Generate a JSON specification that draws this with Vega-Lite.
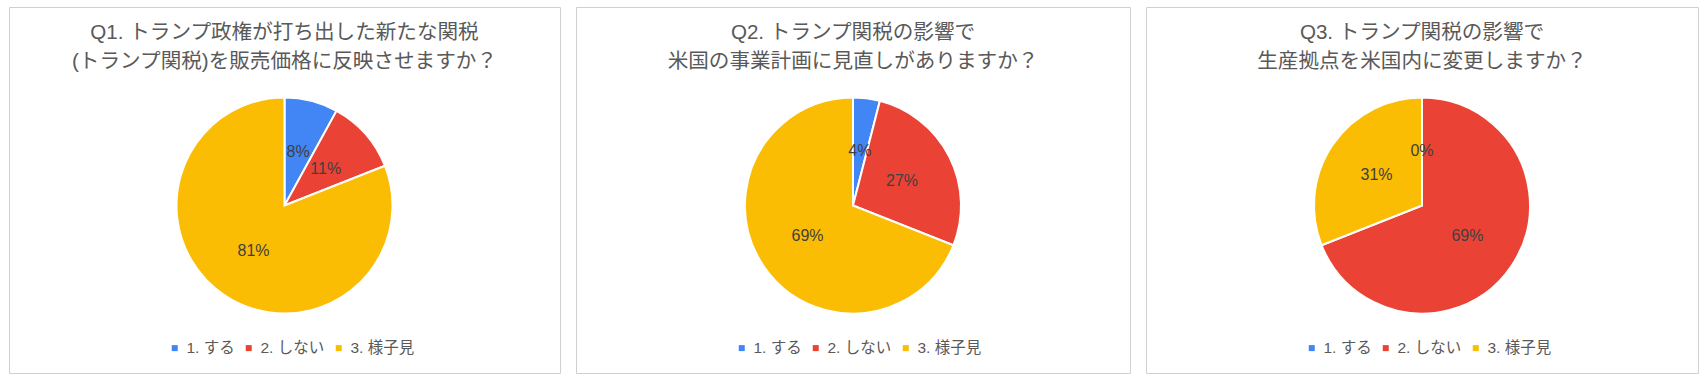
{
  "$schema": "https://vega.github.io/schema/vega-lite/v6.json",
  "padding": {"left": 8, "top": 6, "right": 0, "bottom": 0},
  "background": "white",
  "data": {"values": [
    {"q": "Q1", "k": 1, "c": "1. する", "pct": 0.08},
    {"q": "Q1", "k": 2, "c": "2. しない", "pct": 0.11},
    {"q": "Q1", "k": 3, "c": "3. 様子見", "pct": 0.81},
    {"q": "Q2", "k": 1, "c": "1. する", "pct": 0.04},
    {"q": "Q2", "k": 2, "c": "2. しない", "pct": 0.27},
    {"q": "Q2", "k": 3, "c": "3. 様子見", "pct": 0.69},
    {"q": "Q3", "k": 1, "c": "1. する", "pct": 0.0},
    {"q": "Q3", "k": 2, "c": "2. しない", "pct": 0.69},
    {"q": "Q3", "k": 3, "c": "3. 様子見", "pct": 0.31}
  ]},
  "spacing": 14,
  "config": {
    "font": "Liberation Sans, Noto Sans CJK JP",
    "view": {"stroke": "#d0d0d0", "strokeWidth": 1},
    "title": {"font": "Liberation Sans, Noto Sans CJK JP", "fontSize": 20.6, "fontWeight": "normal", "color": "#595959", "anchor": "middle", "lineHeight": 29, "offset": -66},
    "legend": {"orient": "none", "direction": "horizontal", "legendX": 158, "legendY": 333, "labelFont": "Liberation Sans, Noto Sans CJK JP", "labelFontSize": 15.5, "labelColor": "#595959", "symbolType": "square", "symbolSize": 36, "symbolStrokeWidth": 0, "labelOffset": 4, "columnPadding": 6, "title": null}
  },
  "resolve": {"legend": {"color": "independent"}},
  "hconcat": [
    {
      "width": 551, "height": 366,
      "view": {"stroke": "#d0d0d0", "strokeWidth": 1, "fill": "white"},
      "title": {"text": ["Q1. トランプ政権が打ち出した新たな関税", "(トランプ関税)を販売価格に反映させますか？"]},
      "transform": [{"filter": "datum.q === 'Q1'"}],
      "encoding": {
        "theta": {"field": "pct", "type": "quantitative", "stack": true},
        "order": {"field": "k", "type": "quantitative"},
        "color": {"field": "c", "type": "nominal", "scale": {"domain": ["1. する", "2. しない", "3. 様子見"], "range": ["#4285F4", "#EA4335", "#FBBC04"]}, "legend": {"title": null}}
      },
      "layer": [
        {"mark": {"type": "arc", "outerRadius": 108, "stroke": "white", "strokeWidth": 2, "yOffset": 15.5}},
        {"mark": {"type": "text", "radius": 55, "fontSize": 16, "yOffset": 15.5}, "encoding": {"text": {"field": "pct", "type": "quantitative", "format": ".0%"}, "color": {"value": "#404040"}}}
      ]
    },
    {
      "width": 554, "height": 366,
      "view": {"stroke": "#d0d0d0", "strokeWidth": 1, "fill": "white"},
      "title": {"text": ["Q2. トランプ関税の影響で", "米国の事業計画に見直しがありますか？"]},
      "transform": [{"filter": "datum.q === 'Q2'"}],
      "encoding": {
        "theta": {"field": "pct", "type": "quantitative", "stack": true},
        "order": {"field": "k", "type": "quantitative"},
        "color": {"field": "c", "type": "nominal", "scale": {"domain": ["1. する", "2. しない", "3. 様子見"], "range": ["#4285F4", "#EA4335", "#FBBC04"]}, "legend": {"title": null}}
      },
      "layer": [
        {"mark": {"type": "arc", "outerRadius": 108, "stroke": "white", "strokeWidth": 2, "yOffset": 15.5}},
        {"mark": {"type": "text", "radius": 55, "fontSize": 16, "yOffset": 15.5}, "encoding": {"text": {"field": "pct", "type": "quantitative", "format": ".0%"}, "color": {"value": "#404040"}}}
      ]
    },
    {
      "width": 552, "height": 366,
      "view": {"stroke": "#d0d0d0", "strokeWidth": 1, "fill": "white"},
      "title": {"text": ["Q3. トランプ関税の影響で", "生産拠点を米国内に変更しますか？"]},
      "transform": [{"filter": "datum.q === 'Q3'"}],
      "encoding": {
        "theta": {"field": "pct", "type": "quantitative", "stack": true},
        "order": {"field": "k", "type": "quantitative"},
        "color": {"field": "c", "type": "nominal", "scale": {"domain": ["1. する", "2. しない", "3. 様子見"], "range": ["#4285F4", "#EA4335", "#FBBC04"]}, "legend": {"title": null}}
      },
      "layer": [
        {"mark": {"type": "arc", "outerRadius": 108, "stroke": "white", "strokeWidth": 2, "yOffset": 15.5}},
        {"mark": {"type": "text", "radius": 55, "fontSize": 16, "yOffset": 15.5}, "encoding": {"text": {"field": "pct", "type": "quantitative", "format": ".0%"}, "color": {"value": "#404040"}}}
      ]
    }
  ]
}
